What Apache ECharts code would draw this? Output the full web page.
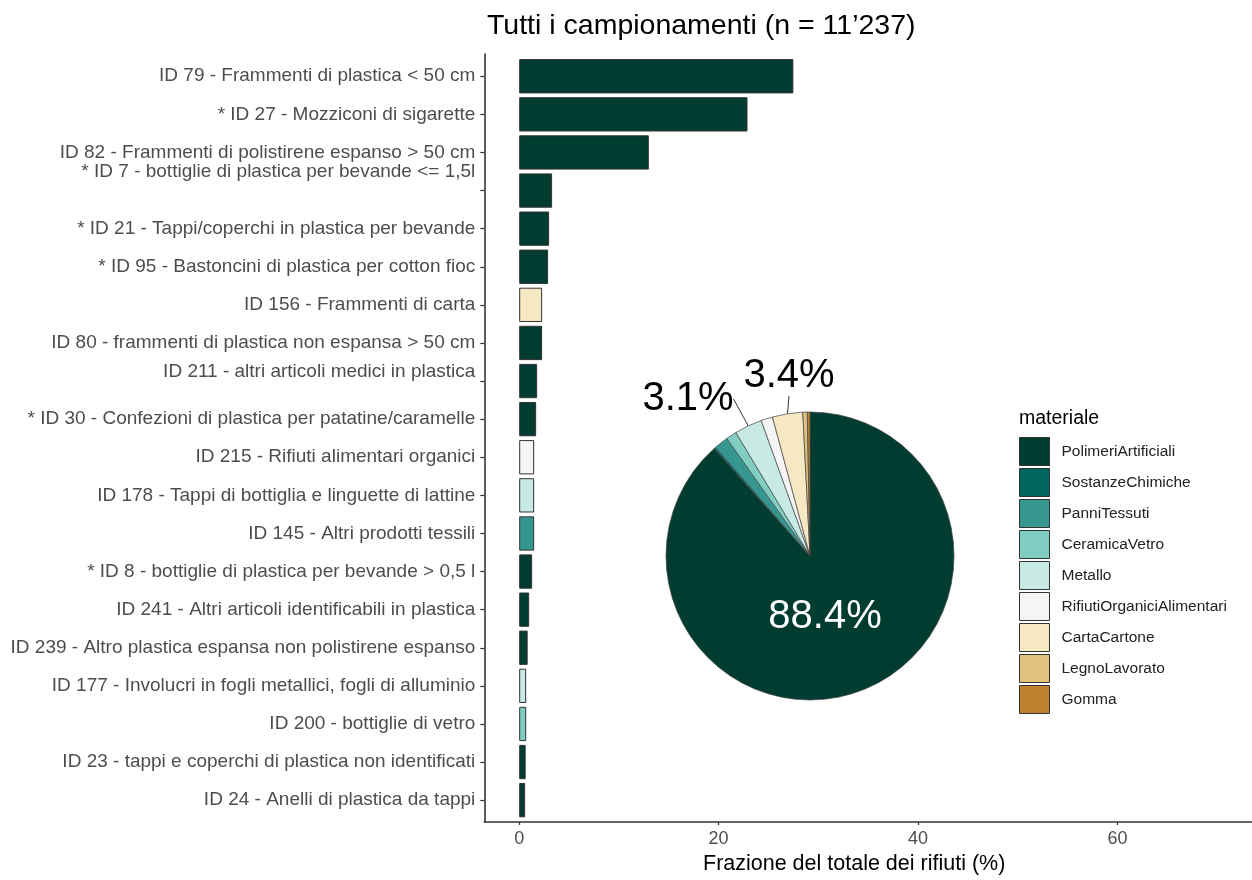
<!DOCTYPE html>
<html><head><meta charset="utf-8">
<script src="https://cdn.jsdelivr.net/npm/echarts@6/dist/echarts.min.js"></script>
<style>html,body{margin:0;padding:0;background:#fff}#c{width:1252px;height:880px}</style>
</head><body><div id="c"></div>
<script>
const categories = [
  'ID 79 - Frammenti di plastica < 50 cm',
  '* ID 27 - Mozziconi di sigarette',
  'ID 82 - Frammenti di polistirene espanso > 50 cm',
  '* ID 7 - bottiglie di plastica per bevande <= 1,5l',
  '* ID 21 - Tappi/coperchi in plastica per bevande',
  '* ID 95 - Bastoncini di plastica per cotton fioc',
  'ID 156 - Frammenti di carta',
  'ID 80 - frammenti di plastica non espansa > 50 cm',
  'ID 211 - altri articoli medici in plastica',
  '* ID 30 - Confezioni di plastica per patatine/caramelle',
  'ID 215 - Rifiuti alimentari organici',
  'ID 178 - Tappi di bottiglia e linguette di lattine',
  'ID 145 - Altri prodotti tessili',
  '* ID 8 - bottiglie di plastica per bevande > 0,5 l',
  'ID 241 - Altri articoli identificabili in plastica',
  'ID 239 - Altro plastica espansa non polistirene espanso',
  'ID 177 - Involucri in fogli metallici, fogli di alluminio',
  'ID 200 - bottiglie di vetro',
  'ID 23 - tappi e coperchi di plastica non identificati',
  'ID 24 - Anelli di plastica da tappi'
];
const values = [27.5, 22.9, 13.0, 3.3, 3.0, 2.9, 2.3, 2.3, 1.8, 1.7, 1.5, 1.5, 1.5, 1.3, 1.0, 0.85, 0.7, 0.7, 0.65, 0.6];
const barMaterials = [
  'PolimeriArtificiali','PolimeriArtificiali','PolimeriArtificiali','PolimeriArtificiali',
  'PolimeriArtificiali','PolimeriArtificiali','CartaCartone','PolimeriArtificiali',
  'PolimeriArtificiali','PolimeriArtificiali','RifiutiOrganiciAlimentari','Metallo',
  'PanniTessuti','PolimeriArtificiali','PolimeriArtificiali','PolimeriArtificiali',
  'Metallo','CeramicaVetro','PolimeriArtificiali','PolimeriArtificiali'
];
const materials = ['PolimeriArtificiali','SostanzeChimiche','PanniTessuti','CeramicaVetro','Metallo','RifiutiOrganiciAlimentari','CartaCartone','LegnoLavorato','Gomma'];
const materialColors = ['#003c30','#01665e','#35978f','#80cdc1','#c7eae5','#f5f5f5','#f6e8c3','#dfc27d','#bf812d'];
const pieValues = [88.4, 0.2, 1.6, 1.2, 3.1, 1.3, 3.4, 0.5, 0.3];
const xTicks = [0, 20, 40, 60];
const xMin = -3.5, xMax = 73.5;

const colorOf = m => materialColors[materials.indexOf(m)];
const font = 'Liberation Sans, Arial, Helvetica, sans-serif';
const maxPie = Math.max(...pieValues);

const chart = echarts.init(document.getElementById('c'), null, {renderer: 'canvas'});
chart.setOption({
  animation: false,
  textStyle: {fontFamily: font},
  title: [
    {text: 'Tutti i campionamenti (n = 11\u2019237)', left: 482, top: 7,
     textStyle: {fontSize: 28.5, fontWeight: 'normal', color: '#000', fontFamily: font}},
    {text: 'Frazione del totale dei rifiuti (%)', left: 698, top: 848,
     textStyle: {fontSize: 21.5, fontWeight: 'normal', color: '#000', fontFamily: font}},
    {text: 'materiale', left: 1014, top: 404,
     textStyle: {fontSize: 19.5, fontWeight: 'normal', color: '#000', fontFamily: font}}
  ],
  legend: {
    orient: 'vertical', left: 1014, top: 432, itemWidth: 30, itemHeight: 28, itemGap: 2,
    icon: 'rect', selectedMode: false, data: materials,
    itemStyle: {borderColor: '#333', borderWidth: 1},
    textStyle: {fontSize: 15.5, color: '#222', fontFamily: font, padding: [0, 0, 0, 7]}
  },
  grid: [
    {left: 484.3, width: 771, top: 57.2, height: 762, containLabel: false},
    {left: 484.3, width: 771, top: 54, height: 768, containLabel: false}
  ],
  xAxis: [
    {gridIndex: 0, type: 'value', min: xMin, max: xMax, show: false},
    {gridIndex: 1, type: 'value', min: xMin, max: xMax,
     axisLine: {show: true, onZero: false, lineStyle: {color: '#333', width: 1.6}},
     axisTick: {show: true, length: 3, lineStyle: {color: '#333', width: 1.2}, customValues: xTicks},
     axisLabel: {show: true, color: '#4d4d4d', fontSize: 18, margin: 8, customValues: xTicks, fontFamily: font},
     splitLine: {show: false}}
  ],
  yAxis: [
    {gridIndex: 0, type: 'category', data: categories, inverse: true,
     axisLine: {show: false, onZero: false},
     axisTick: {show: true, alignWithLabel: true, length: 4, lineStyle: {color: '#333', width: 1.2}},
     axisLabel: {color: '#4d4d4d', fontSize: 19, margin: 9, lineHeight: 19, fontFamily: font, interval: 0,
       formatter: (v, i) => i === 3 ? v + '\n\n' : (i === 8 ? v + '\n' : v)}},
    {gridIndex: 1, type: 'value', min: 0, max: 1,
     axisLine: {show: true, onZero: false, lineStyle: {color: '#333', width: 1.6}},
     axisTick: {show: false}, axisLabel: {show: false}, splitLine: {show: false}}
  ],
  series: [
    {type: 'bar', xAxisIndex: 0, yAxisIndex: 0, barCategoryGap: '10%', silent: true,
     data: values.map((v, i) => ({value: v, itemStyle: {color: colorOf(barMaterials[i])}})),
     itemStyle: {borderColor: '#333', borderWidth: 1}},
    {type: 'pie', center: [810, 556], radius: 144, startAngle: 90, clockwise: true,
     avoidLabelOverlap: false, silent: true,
     itemStyle: {borderColor: '#444', borderWidth: 0.7},
     data: materials.map((m, i) => {
       const v = pieValues[i];
       const isMax = v === maxPie;
       const show = v >= 3;
       return {
         name: m, value: v, itemStyle: {color: materialColors[i]},
         label: {show: show, position: isMax ? 'inside' : 'outside',
                 color: isMax ? '#fff' : '#000', fontSize: 40, fontFamily: font,
                 formatter: p => p.value.toFixed(1) + '%'},
         labelLine: {show: show && !isMax, length: 8, length2: 0,
                     lineStyle: {color: '#333', width: 1}}
       };
     }),
     labelLayout: function (p) {
       if (p.dataIndex === 0) return {x: 825, y: 617, align: 'center', verticalAlign: 'middle'};
       if (p.dataIndex === 4) return {x: 688, y: 399, align: 'center', verticalAlign: 'middle'};
       if (p.dataIndex === 6) return {x: 789, y: 376, align: 'center', verticalAlign: 'middle'};
       return {};
     }}
  ]
});
</script></body></html>
